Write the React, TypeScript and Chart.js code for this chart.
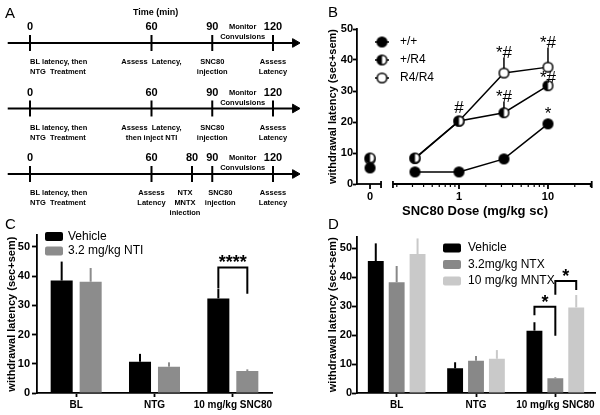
import React, { useEffect, useRef } from 'react';
import { Chart, registerables } from 'chart.js';

Chart.register(...registerables);

const FONT = '"Liberation Sans", Arial, Helvetica, sans-serif';
const INK = '#000000';
const Y_TITLE = 'withdrawal latency (sec+sem)';

// ================= Panel A: protocol timelines =================
const timeAxisTitle = 'Time (min)';
const row1Times = [0, 60, 90, 120];
const row1Notes = [['BL latency, then', 'NTG  Treatment'], ['Assess  Latency,'], ['SNC80', 'injection'], ['Assess', 'Latency']];
const row2Times = [0, 60, 90, 120];
const row2Notes = [['BL latency, then', 'NTG  Treatment'], ['Assess  Latency,', 'then inject NTI'], ['SNC80', 'injection'], ['Assess', 'Latency']];
const row3Times = [0, 60, 80, 90, 120];
const row3Notes = [['BL latency, then', 'NTG  Treatment'], ['Assess', 'Latency'], ['NTX', 'MNTX', 'injection'], ['SNC80', 'injection'], ['Assess', 'Latency']];
const monitorNote = ['Monitor', 'Convulsions'];
const monitorTime = 105;

// ================= Panel B: dose response =================
const doseValues = [0, 0.32, 1, 3.2, 10];
const doseTickValues = [0, 1, 10];
const doseTickLabels = ['0', '1', '10'];
const doseMinorTicks = [0.2, 0.3, 0.4, 0.5, 0.6, 0.7, 0.8, 0.9, 2, 3, 4, 5, 6, 7, 8, 9, 20, 30];
const genotypeLabels = ['+/+', '+/R4', 'R4/R4'];
const wtMeans = [5.2, 3.9, 3.9, 8.1, 19.4];
const wtSem = [0.6, 0.4, 0.4, 0.8, 1.5];
const hetMeans = [8.4, 8.4, 20.3, 23.0, 31.7];
const hetSem = [1.0, 1.0, 1.2, 3.5, 1.0];
const homMeans = [8.0, 8.2, 20.3, 35.8, 37.7];
const homSem = [1.0, 1.0, 1.2, 4.9, 6.2];
const bMarkDoses = [1, 3.2, 3.2, 10, 10, 10];
const bMarkLevels = [23.0, 40.8, 26.4, 44.0, 32.6, 21.1];
const bMarkTexts = ['#', '*#', '*#', '*#', '*#', '*'];
const bXTitle = 'SNC80 Dose (mg/kg sc)';

// ================= Panel C =================
const cCategories = ['BL', 'NTG', '10 mg/kg SNC80'];
const cSeriesLabels = ['Vehicle', '3.2 mg/kg NTI'];
const cVehicle = [38.5, 10.7, 32.4];
const cVehicleSem = [6.5, 2.7, 3.2];
const cNti = [38.1, 9.0, 7.5];
const cNtiSem = [4.7, 1.5, 0.6];
const cSigCategory = [2];
const cSigPairs = [[0, 1]];
const cSigTop = [43.0];
const cSigEnds = [[35.8, 34.0]];
const cSigText = ['****'];

// ================= Panel D =================
const dCategories = ['BL', 'NTG', '10 mg/kg SNC80'];
const dSeriesLabels = ['Vehicle', '3.2mg/kg NTX', '10 mg/kg MNTX'];
const dVehicle = [45.5, 8.5, 21.5];
const dVehicleSem = [6.1, 2.1, 2.9];
const dNtx = [38.2, 11.1, 5.1];
const dNtxSem = [5.6, 1.7, 0.3];
const dMntx = [47.9, 11.8, 29.5];
const dMntxSem = [5.4, 3.0, 4.3];
const dSigCategory = [2, 2];
const dSigPairs = [[0, 1], [1, 2]];
const dSigTop = [29.7, 38.6];
const dSigEnds = [[26.8, 19.7], [33.9, 35.5]];
const dSigText = ['*', '*'];

// ---------------- helpers ----------------
function makeMarker(kind: string, r: number, lw: number) {
  const size = Math.ceil(2 * (r + lw)) + 2;
  const c = document.createElement('canvas');
  c.width = size; c.height = size;
  const ctx = c.getContext('2d')!;
  const cx = size / 2, cy = size / 2;
  ctx.beginPath(); ctx.arc(cx, cy, r, 0, Math.PI * 2);
  ctx.fillStyle = kind === 'full' ? INK : '#ffffff'; ctx.fill();
  if (kind === 'half') {
    ctx.beginPath(); ctx.moveTo(cx, cy - r);
    ctx.arc(cx, cy, r, -Math.PI / 2, Math.PI / 2, true);
    ctx.closePath(); ctx.fillStyle = INK; ctx.fill();
  }
  ctx.beginPath(); ctx.arc(cx, cy, r, 0, Math.PI * 2);
  ctx.lineWidth = lw; ctx.strokeStyle = INK; ctx.stroke();
  return c;
}

function letter(ctx: CanvasRenderingContext2D, t: string, x: number, y: number) {
  ctx.save();
  ctx.fillStyle = INK; ctx.font = `15px ${FONT}`;
  ctx.textAlign = 'left'; ctx.textBaseline = 'alphabetic';
  ctx.fillText(t, x, y);
  ctx.restore();
}

// ---------------- Panel A config ----------------
function makeA() {
  const rows = [
    { times: row1Times, notes: row1Notes, shift: [0, 0, 0, 0] },
    { times: row2Times, notes: row2Notes, shift: [0, 0, 0, 0] },
    { times: row3Times, notes: row3Notes, shift: [0, 0, -7, 8, 0] },
  ];
  const AXIS_START = -11;
  const AXIS_END = 131;
  const plugin = {
    id: 'aText',
    afterDatasetsDraw(chart: any) {
      const { ctx, scales: { x, y } } = chart;
      ctx.save();
      ctx.fillStyle = INK;
      letter(ctx, 'A', 5, 18);
      ctx.font = `bold 9px ${FONT}`; ctx.textAlign = 'center'; ctx.textBaseline = 'middle';
      ctx.fillText(timeAxisTitle, x.getPixelForValue(62), 12.5);
      rows.forEach((row, r) => {
        const py = y.getPixelForValue(r);
        row.times.forEach((t, i) => {
          const px = x.getPixelForValue(t);
          ctx.font = `bold 11px ${FONT}`; ctx.textAlign = 'center'; ctx.textBaseline = 'middle';
          ctx.fillText(String(t), px, py - 16);
          ctx.font = `bold 7.5px ${FONT}`;
          ctx.textAlign = t === 0 ? 'left' : 'center';
          row.notes[i].forEach((line, k) => ctx.fillText(line, px + row.shift[i], py + 19 + 10 * k));
        });
        ctx.font = `bold 7.5px ${FONT}`; ctx.textAlign = 'center';
        const mx = x.getPixelForValue(monitorTime);
        monitorNote.forEach((line, k) => ctx.fillText(line, mx, py - 16 + 10 * k));
      });
      ctx.restore();
    },
  };
  const datasets: any[] = rows.map((_, r) => ({
    data: [{ x: AXIS_START, y: r }, { x: AXIS_END, y: r }],
    showLine: true, borderColor: INK, borderWidth: 2, pointRadius: 0,
  }));
  datasets.push({
    data: rows.map((_, r) => ({ x: 130.9, y: r })),
    showLine: false, pointStyle: 'triangle', pointRotation: 90, pointRadius: 5,
    pointBackgroundColor: INK, pointBorderColor: INK, pointBorderWidth: 1,
  });
  datasets.push({
    data: rows.flatMap((row, r) => row.times.map((t) => ({ x: t, y: r }))),
    showLine: false, pointStyle: 'line', pointRotation: 90, pointRadius: 8,
    pointBorderColor: INK, pointBorderWidth: 2,
  });
  return {
    type: 'scatter',
    data: { datasets },
    options: {
      responsive: false, animation: false, devicePixelRatio: 1,
      layout: { padding: 0, autoPadding: false },
      plugins: { legend: { display: false }, tooltip: { enabled: false } },
      scales: {
        x: { type: 'linear', display: false, min: -14.81, max: 133.33 },
        y: { type: 'linear', display: false, reverse: true, min: -0.656, max: 2.626 },
      },
    },
    plugins: [plugin],
  };
}

// ---------------- Panel B config ----------------
function makeB() {
  const ZERO_DOSE_POS = 0.1;
  const SEG1_END = 0.133;
  const SEG2_START = 0.181;
  const SEG2_END = 31;
  const markers = [makeMarker('full', 4.8, 1.5), makeMarker('half', 4.8, 1.5), makeMarker('open', 4.8, 1.5)];
  const series = [
    { means: wtMeans, sem: wtSem },
    { means: hetMeans, sem: hetSem },
    { means: homMeans, sem: homSem },
  ];
  const pos = (d: number) => (d === 0 ? ZERO_DOSE_POS : d);
  const datasets = series.map((s, si) => ({
    label: genotypeLabels[si],
    data: doseValues.map((d, i) => ({ x: pos(d), y: s.means[i] })),
    sem: s.sem,
    showLine: true, borderColor: INK, borderWidth: 1.5,
    pointStyle: markers[si], pointRadius: 5,
    segment: { borderColor: (c: any) => (c.p0DataIndex === 0 ? 'rgba(0,0,0,0)' : INK) },
  }));
  const plugin = {
    id: 'bExtras',
    beforeDatasetsDraw(chart: any) {
      const { ctx, chartArea, scales: { x, y } } = chart;
      ctx.save();
      ctx.strokeStyle = INK;
      ctx.lineWidth = 1.5;
      chart.data.datasets.forEach((ds: any) => {
        ds.data.forEach((p: any, i: number) => {
          const px = x.getPixelForValue(p.x);
          ctx.beginPath();
          ctx.moveTo(px, y.getPixelForValue(p.y));
          ctx.lineTo(px, y.getPixelForValue(p.y + ds.sem[i]));
          ctx.stroke();
        });
      });
      const by = chartArea.bottom;
      ctx.lineWidth = 1.8;
      const hline = (a: number, b: number) => { ctx.beginPath(); ctx.moveTo(a, by); ctx.lineTo(b, by); ctx.stroke(); };
      const vline = (px: number, a: number, b: number) => { ctx.beginPath(); ctx.moveTo(px, by + a); ctx.lineTo(px, by + b); ctx.stroke(); };
      hline(chartArea.left, x.getPixelForValue(SEG1_END));
      hline(x.getPixelForValue(SEG2_START), x.getPixelForValue(SEG2_END));
      [SEG1_END, SEG2_START, SEG2_END].forEach((v) => vline(x.getPixelForValue(v), -3, 4));
      doseTickValues.forEach((v) => vline(x.getPixelForValue(pos(v)), 0, 5));
      ctx.lineWidth = 1.2;
      doseMinorTicks.forEach((v) => vline(x.getPixelForValue(v), 0, 3));
      ctx.fillStyle = INK;
      ctx.font = `bold 11px ${FONT}`; ctx.textAlign = 'center'; ctx.textBaseline = 'middle';
      doseTickValues.forEach((v, i) => ctx.fillText(doseTickLabels[i], x.getPixelForValue(pos(v)), by + 13));
      ctx.font = `bold 13px ${FONT}`;
      ctx.fillText(bXTitle, (chartArea.left + chartArea.right) / 2, by + 27);
      ctx.restore();
    },
    afterDatasetsDraw(chart: any) {
      const { ctx, chartArea, scales: { x, y } } = chart;
      ctx.save();
      ctx.fillStyle = INK;
      ctx.font = `17px ${FONT}`; ctx.textAlign = 'center'; ctx.textBaseline = 'alphabetic';
      bMarkTexts.forEach((t, i) => ctx.fillText(t, x.getPixelForValue(bMarkDoses[i]), y.getPixelForValue(bMarkLevels[i])));
      const lx = chartArea.left + 25;
      chart.data.datasets.forEach((ds: any, i: number) => {
        const ly = chartArea.top + 13 + i * 18;
        ctx.strokeStyle = INK; ctx.lineWidth = 1.5;
        ctx.beginPath(); ctx.moveTo(lx - 7, ly); ctx.lineTo(lx + 7, ly); ctx.stroke();
        const m = markers[i];
        ctx.drawImage(m, lx - m.width / 2, ly - m.height / 2);
        ctx.font = `12px ${FONT}`; ctx.textAlign = 'left'; ctx.textBaseline = 'middle';
        ctx.fillText(ds.label, lx + 18, ly);
      });
      letter(ctx, 'B', 28, 17);
      ctx.restore();
    },
  };
  return {
    type: 'scatter',
    data: { datasets },
    options: {
      responsive: false, animation: false, devicePixelRatio: 1,
      layout: { padding: { left: 0, right: 7, top: 29, bottom: 38 }, autoPadding: false },
      plugins: { legend: { display: false }, tooltip: { enabled: false } },
      scales: {
        x: { type: 'logarithmic', display: false, min: 0.0714, max: 32.06, bounds: 'data' },
        y: {
          type: 'linear', min: 0, max: 50, bounds: 'data',
          ticks: { stepSize: 10, color: INK, font: { family: FONT, size: 11, weight: 'bold' }, padding: 0 },
          grid: { drawOnChartArea: false, drawTicks: true, tickLength: 4, tickWidth: 1.8, tickColor: INK, color: INK },
          border: { display: true, color: INK, width: 1.8 },
          title: { display: true, text: Y_TITLE, color: INK, font: { family: FONT, size: 11, weight: 'bold' }, padding: { top: 26.4, bottom: 0 } },
          afterFit: (s: any) => { s.width = 57; },
        },
      },
    },
    plugins: [plugin],
  };
}

// ---------------- Bar panels ----------------
function makeBar(p: any) {
  const datasets = p.series.map((s: any) => ({
    label: s.label, data: s.values, sem: s.sem,
    backgroundColor: s.color, borderWidth: 0,
    barPercentage: p.barPct, categoryPercentage: p.catPct,
  }));
  const plugin = {
    id: 'barExtras',
    afterDatasetsDraw(chart: any) {
      const { ctx, scales: { y } } = chart;
      ctx.save();
      ctx.lineCap = 'butt';
      chart.data.datasets.forEach((ds: any, di: number) => {
        const meta = chart.getDatasetMeta(di);
        meta.data.forEach((bar: any, i: number) => {
          ctx.strokeStyle = ds.backgroundColor; ctx.lineWidth = 2;
          ctx.beginPath();
          ctx.moveTo(bar.x, y.getPixelForValue(ds.data[i]));
          ctx.lineTo(bar.x, y.getPixelForValue(ds.data[i] + ds.sem[i]));
          ctx.stroke();
        });
      });
      ctx.strokeStyle = INK; ctx.fillStyle = INK; ctx.lineWidth = 2; ctx.lineJoin = 'miter';
      p.sigCategory.forEach((cat: number, k: number) => {
        const [a, b] = p.sigPairs[k];
        const xa = chart.getDatasetMeta(a).data[cat].x;
        const xb = chart.getDatasetMeta(b).data[cat].x;
        const top = y.getPixelForValue(p.sigTop[k]);
        ctx.beginPath();
        ctx.moveTo(xa, y.getPixelForValue(p.sigEnds[k][0]));
        ctx.lineTo(xa, top); ctx.lineTo(xb, top);
        ctx.lineTo(xb, y.getPixelForValue(p.sigEnds[k][1]));
        ctx.stroke();
        ctx.font = `bold 18px ${FONT}`; ctx.textAlign = 'center'; ctx.textBaseline = 'alphabetic';
        ctx.fillText(p.sigText[k], (xa + xb) / 2, top + 1);
      });
      chart.data.datasets.forEach((ds: any, i: number) => {
        const ly = p.legY + i * p.legStep;
        ctx.fillStyle = ds.backgroundColor;
        ctx.beginPath();
        if ((ctx as any).roundRect) (ctx as any).roundRect(p.legX, ly - 4.5, 18, 9, 2);
        else ctx.rect(p.legX, ly - 4.5, 18, 9);
        ctx.fill();
        ctx.fillStyle = INK;
        ctx.font = `12px ${FONT}`; ctx.textAlign = 'left'; ctx.textBaseline = 'middle';
        ctx.fillText(ds.label, p.legX + 18 + p.legGap, ly);
      });
      letter(ctx, p.letter, p.letterX, 14);
      ctx.restore();
    },
  };
  return {
    type: 'bar',
    data: { labels: p.categories, datasets },
    options: {
      responsive: false, animation: false, devicePixelRatio: 1,
      layout: { padding: { left: 0, right: p.padRight, top: p.padTop, bottom: 0 }, autoPadding: false },
      plugins: { legend: { display: false }, tooltip: { enabled: false } },
      scales: {
        x: {
          grid: { display: true, drawOnChartArea: false, offset: false, drawTicks: true, tickLength: 4, tickWidth: 1.8, tickColor: INK, color: INK },
          border: { display: true, color: INK, width: 1.8 },
          ticks: { color: INK, font: { family: FONT, size: 10, weight: 'bold' }, padding: 2, maxRotation: 0, autoSkip: false },
          afterFit: (s: any) => { s.height = 22; },
        },
        y: {
          type: 'linear', min: 0, max: 54, bounds: 'data',
          ticks: { stepSize: 10, includeBounds: false, color: INK, font: { family: FONT, size: 11, weight: 'bold' }, padding: p.tickPad },
          grid: { drawOnChartArea: false, drawTicks: true, tickLength: 5, tickWidth: 1.8, tickColor: INK, color: INK },
          border: { display: true, color: INK, width: 1.8 },
          title: { display: true, text: Y_TITLE, color: INK, font: { family: FONT, size: 11, weight: 'bold' }, padding: { top: p.titlePad, bottom: 0 } },
          afterBuildTicks: (s: any) => { s.ticks = s.ticks.filter((t: any) => t.value % 10 === 0); },
          afterFit: (s: any) => { s.width = p.axisW; },
        },
      },
    },
    plugins: [plugin],
  };
}

function makeC() {
  return makeBar({
    categories: cCategories,
    series: [
      { label: cSeriesLabels[0], values: cVehicle, sem: cVehicleSem, color: '#000000' },
      { label: cSeriesLabels[1], values: cNti, sem: cNtiSem, color: '#8c8c8c' },
    ],
    barPct: 0.76, catPct: 0.74,
    sigCategory: cSigCategory, sigPairs: cSigPairs, sigTop: cSigTop, sigEnds: cSigEnds, sigText: cSigText,
    legX: 45, legY: 21.5, legStep: 14.5, legGap: 5,
    letter: 'C', letterX: 5,
    padRight: 28, padTop: 20.3, axisW: 37, titlePad: 5.4, tickPad: 2,
  });
}

function makeD() {
  return makeBar({
    categories: dCategories,
    series: [
      { label: dSeriesLabels[0], values: dVehicle, sem: dVehicleSem, color: '#000000' },
      { label: dSeriesLabels[1], values: dNtx, sem: dNtxSem, color: '#888888' },
      { label: dSeriesLabels[2], values: dMntx, sem: dMntxSem, color: '#c9c9c9' },
    ],
    barPct: 0.76, catPct: 0.79,
    sigCategory: dSigCategory, sigPairs: dSigPairs, sigTop: dSigTop, sigEnds: dSigEnds, sigText: dSigText,
    legX: 143, legY: 33, legStep: 16.5, legGap: 7,
    letter: 'D', letterX: 28,
    padRight: 5, padTop: 21.4, axisW: 57, titlePad: 26.4, tickPad: 0,
  });
}

function Panel({ left, top, width, height, make }: any) {
  const ref = useRef<HTMLCanvasElement>(null);
  useEffect(() => {
    const chart = new Chart(ref.current as HTMLCanvasElement, make());
    return () => chart.destroy();
  }, []);
  return (
    <canvas
      ref={ref}
      width={width}
      height={height}
      style={{ position: 'absolute', left, top, width, height, display: 'block' }}
    />
  );
}

export default function App() {
  return (
    <div style={{ position: 'absolute', left: 0, top: 0, width: 600, height: 415, background: '#ffffff', overflow: 'hidden' }}>
      <Panel left={0} top={0} width={300} height={215} make={makeA} />
      <Panel left={300} top={0} width={300} height={222} make={makeB} />
      <Panel left={0} top={215} width={300} height={200} make={makeC} />
      <Panel left={300} top={215} width={300} height={200} make={makeD} />
    </div>
  );
}
